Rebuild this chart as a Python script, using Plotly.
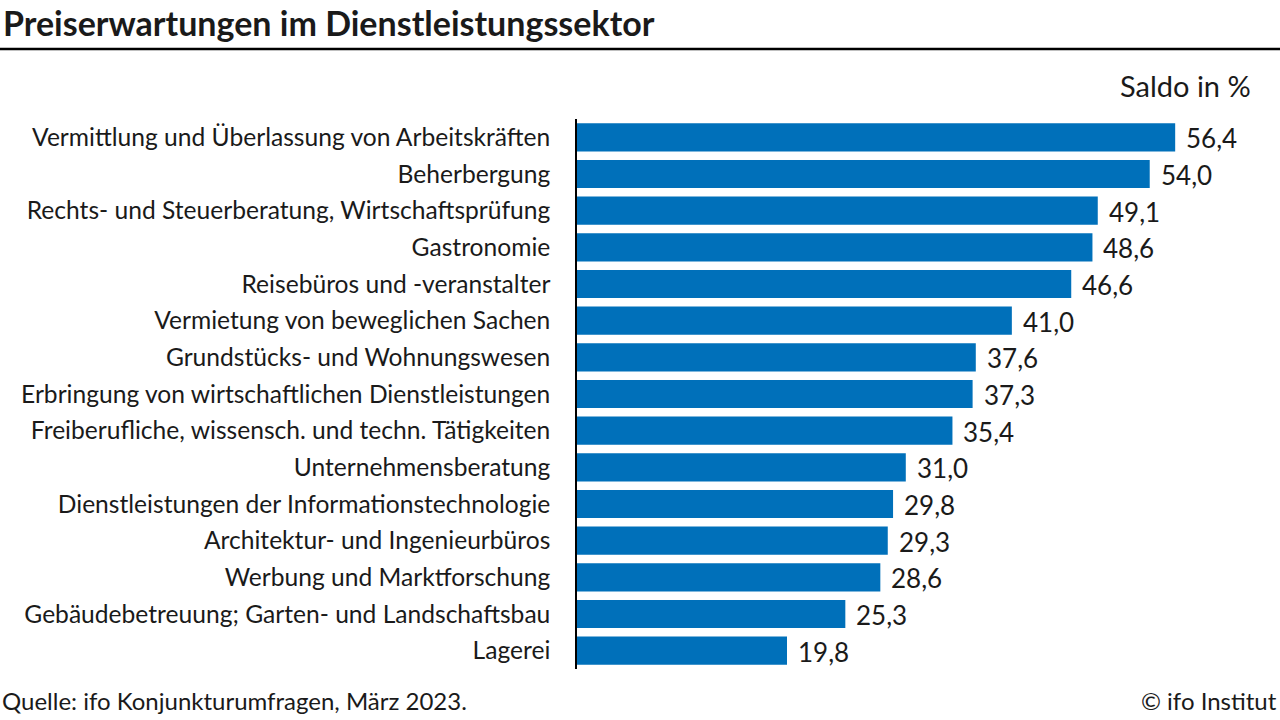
import plotly.graph_objects as go

# Daten: Preiserwartungen im Dienstleistungssektor, Saldo in %
kategorien = [
    "Vermittlung und Überlassung von Arbeitskräften",
    "Beherbergung",
    "Rechts- und Steuerberatung, Wirtschaftsprüfung",
    "Gastronomie",
    "Reisebüros und -veranstalter",
    "Vermietung von beweglichen Sachen",
    "Grundstücks- und Wohnungswesen",
    "Erbringung von wirtschaftlichen Dienstleistungen",
    "Freiberufliche, wissensch. und techn. Tätigkeiten",
    "Unternehmensberatung",
    "Dienstleistungen der Informationstechnologie",
    "Architektur- und Ingenieurbüros",
    "Werbung und Marktforschung",
    "Gebäudebetreuung; Garten- und Landschaftsbau",
    "Lagerei",
]
saldo = [56.4, 54.0, 49.1, 48.6, 46.6, 41.0, 37.6, 37.3, 35.4, 31.0, 29.8, 29.3, 28.6, 25.3, 19.8]

W, H = 1280, 720
L, R, T, B = 577, 3, 119, 51
FONT = "Lato"
TXT = "#1a1a1a"
BLAU = "#0070BA"


def px_x(px):  # Pixel -> paper x
    return (px - L) / (W - L - R)


def px_y(py):  # Pixel -> paper y
    return 1 - (py - T) / (H - T - B)


fig = go.Figure()
fig.add_trace(go.Bar(
    x=saldo,
    y=kategorien,
    orientation="h",
    marker=dict(color=BLAU, line=dict(width=0)),
    width=0.77,
    hoverinfo="skip",
))

anns = []
for k, v in zip(kategorien, saldo):
    anns.append(dict(x=v, y=k, xref="x", yref="y", text=f"{v:.1f}".replace(".", ","),
                     showarrow=False, xanchor="left", xshift=9, yshift=-1,
                     font=dict(family=FONT, size=26, color=TXT)))

anns += [
    dict(x=px_x(1), y=px_y(22), xref="paper", yref="paper", text="<b>Preiserwartungen im Dienstleistungssektor</b>",
         showarrow=False, xanchor="left", yanchor="middle", font=dict(family=FONT, size=34, color=TXT)),
    dict(x=px_x(1253), y=px_y(86), xref="paper", yref="paper", text="Saldo in %",
         showarrow=False, xanchor="right", yanchor="middle", font=dict(family=FONT, size=29, color=TXT)),
    dict(x=px_x(0), y=px_y(700), xref="paper", yref="paper", text="Quelle: ifo Konjunkturumfragen, März 2023.",
         showarrow=False, xanchor="left", yanchor="middle", font=dict(family=FONT, size=24, color=TXT)),
    dict(x=px_x(1279), y=px_y(700), xref="paper", yref="paper", text="© ifo Institut",
         showarrow=False, xanchor="right", yanchor="middle", font=dict(family=FONT, size=24, color=TXT)),
]

fig.update_layout(
    width=W, height=H,
    margin=dict(l=L, r=R, t=T, b=B),
    plot_bgcolor="white", paper_bgcolor="white",
    showlegend=False,
    annotations=anns,
    shapes=[dict(type="line", xref="paper", yref="paper", x0=px_x(0), x1=px_x(W),
                 y0=px_y(49), y1=px_y(49), line=dict(color="black", width=2.5))],
    xaxis=dict(range=[0, 66], visible=False, fixedrange=True),
    yaxis=dict(
        range=[len(kategorien) - 0.5, -0.5],
        showline=True, linecolor="black", linewidth=1.5,
        ticks="", showgrid=False, zeroline=False,
        ticklabelstandoff=20,
        tickfont=dict(family=FONT, size=24.6, color=TXT),
        fixedrange=True,
    ),
)

# Seitenrand des Browsers entfernen, damit die Grafik bei 0,0 beginnt
fig.write_html("out.html", config={"displayModeBar": False},
               post_script="document.body.style.margin='0';")
